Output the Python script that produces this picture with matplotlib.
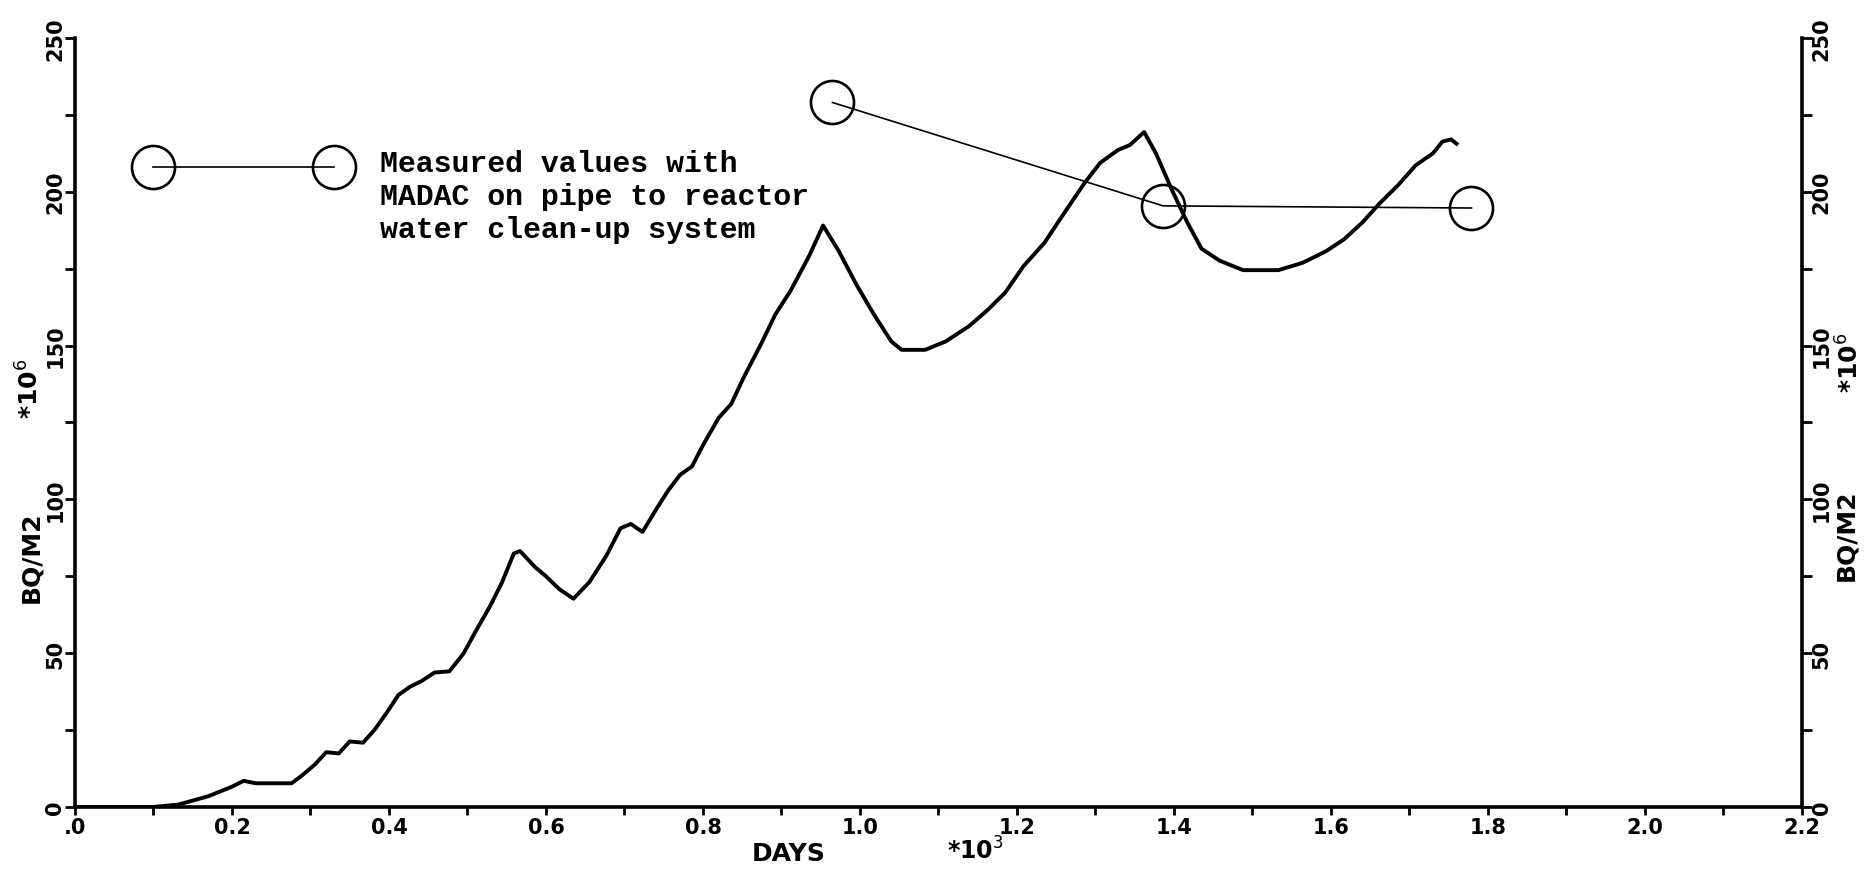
"""
Surface activity build-up on the clean-up pipe, computed curve with MADAC
measurements overlaid.
"""

import matplotlib
matplotlib.use("Agg")
import matplotlib.pyplot as plt
from matplotlib.ticker import MultipleLocator, FixedLocator, FixedFormatter

# computed curve: time in 10^3 days, activity in 10^6 Bq/m2
days = [0.0, 0.10, 0.132, 0.17, 0.20, 0.215, 0.23, 0.276, 0.29, 0.306, 0.32,
        0.336, 0.35, 0.367, 0.382, 0.397, 0.412, 0.427, 0.442, 0.458, 0.477,
        0.495, 0.51, 0.529, 0.544, 0.559, 0.567, 0.586, 0.60, 0.617, 0.635,
        0.655, 0.677, 0.695, 0.708, 0.723, 0.741, 0.756, 0.771, 0.786, 0.80,
        0.82, 0.836, 0.852, 0.874, 0.892, 0.912, 0.935, 0.953, 0.973, 0.995,
        1.018, 1.04, 1.053, 1.083, 1.109, 1.139, 1.162, 1.185, 1.208, 1.235,
        1.26, 1.286, 1.306, 1.329, 1.344, 1.362, 1.377, 1.397, 1.417, 1.435,
        1.458, 1.488, 1.533, 1.564, 1.594, 1.617, 1.64, 1.662, 1.685, 1.708,
        1.73, 1.742, 1.753, 1.76]
activity = [0.0, 0.0, 0.8, 3.5, 6.6, 8.5, 7.7, 7.7, 10.4, 13.9, 17.8,
            17.4, 21.3, 20.9, 25.2, 30.6, 36.4, 39.1, 41.0, 43.7, 44.1,
            49.9, 56.9, 65.4, 73.0, 82.4, 83.2, 78.0, 75.0, 70.8, 67.7,
            73.0, 81.7, 90.6, 92.0, 89.4, 97.0, 103.0, 108.0, 110.7, 117.6,
            126.5, 131.0, 139.7, 150.5, 160.0, 168.0, 179.0, 189.0, 180.7, 170.0,
            160.0, 151.3, 148.6, 148.6, 151.3, 156.3, 161.4, 167.2, 175.7, 183.4,
            193.0, 202.8, 209.4, 213.6, 215.2, 219.4, 212.5, 200.8, 190.0, 181.5,
            177.6, 174.5, 174.5, 176.9, 180.7, 184.6, 190.0, 196.2, 202.0, 208.6,
            212.5, 216.3, 217.0, 215.6]

# MADAC measurements
meas_days = [0.965, 1.386, 1.779]
meas_activity = [229.0, 195.4, 194.7]

# legend sample
legend_days = [0.10, 0.33]
legend_activity = [208.0, 208.0]
legend_text = "Measured values with\nMADAC on pipe to reactor\nwater clean-up system"

x_ticks = [0.0, 0.2, 0.4, 0.6, 0.8, 1.0, 1.2, 1.4, 1.6, 1.8, 2.0, 2.2]
x_labels = [".0", "0.2", "0.4", "0.6", "0.8", "1.0", "1.2", "1.4", "1.6", "1.8", "2.0", "2.2"]
y_ticks = [0, 50, 100, 150, 200, 250]
y_labels = ["0", "50", "100", "150", "200", "250"]

TICK_FONT = dict(family="DejaVu Sans", weight="bold", size=15)


def main() -> None:
    fig = plt.figure(figsize=(18.65, 8.70), dpi=100)
    ax = fig.add_axes([0.0402, 0.0713, 0.926, 0.884])

    ax.plot(days, activity, color="black", linewidth=2.8, solid_joinstyle="round")
    marker_style = dict(marker="o", markersize=31, markerfacecolor="none",
                        markeredgecolor="black", markeredgewidth=1.9)
    ax.plot(meas_days, meas_activity, color="black", linewidth=1.2, **marker_style)
    ax.plot(legend_days, legend_activity, color="black", linewidth=1.2, **marker_style)
    ax.text(0.388, 214.0, legend_text, family="Liberation Mono", weight="bold",
            fontsize=21.5, linespacing=1.24, va="top", ha="left")

    ax.set_xlim(0, 2.2)
    ax.set_ylim(0, 250)

    ax.spines["top"].set_visible(False)
    for side in ("left", "right", "bottom"):
        ax.spines[side].set_linewidth(2.6)

    ax.xaxis.set_major_locator(FixedLocator(x_ticks))
    ax.xaxis.set_major_formatter(FixedFormatter(x_labels))
    ax.xaxis.set_minor_locator(MultipleLocator(0.1))
    ax.yaxis.set_major_locator(FixedLocator(y_ticks))
    ax.yaxis.set_major_formatter(FixedFormatter(y_labels))
    ax.yaxis.set_minor_locator(MultipleLocator(25))

    ax.tick_params(axis="both", which="both", direction="out", width=2.0, color="black")
    ax.tick_params(axis="x", which="both", length=6, pad=1)
    ax.tick_params(axis="y", which="both", length=7, pad=0,
                   left=True, right=True, labelleft=True, labelright=True)
    for lab in ax.get_xticklabels():
        lab.set(**TICK_FONT)
    for lab in ax.get_yticklabels():
        lab.set(**TICK_FONT, rotation=90, va="center")

    label_font = dict(family="DejaVu Sans", weight="bold", size=18)
    fig.text(0.423, 0.018, "DAYS", ha="center", va="center", **label_font)
    fig.text(0.523, 0.022, "*10$^{3}$", ha="center", va="center", size=17,
             family="DejaVu Sans", weight="bold")
    fig.text(0.017, 0.360, "BQ/M2", rotation=90, ha="center", va="center", **label_font)
    fig.text(0.016, 0.553, "*10$^{6}$", rotation=90, ha="center", va="center", **label_font)
    fig.text(0.990, 0.385, "BQ/M2", rotation=90, ha="center", va="center", **label_font)
    fig.text(0.992, 0.583, "*10$^{6}$", rotation=90, ha="center", va="center", **label_font)

    fig.savefig("out.png", dpi=100, facecolor="white")
    plt.close(fig)


if __name__ == "__main__":
    main()
